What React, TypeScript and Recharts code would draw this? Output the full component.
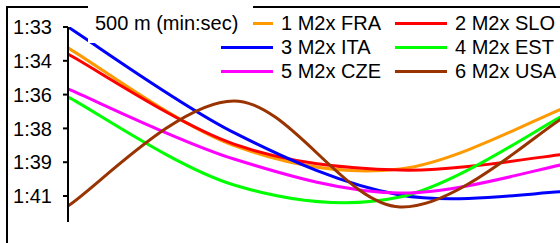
import React from "react";
import { Line, LineChart, XAxis, YAxis } from "recharts";

// 500 m splits (seconds)
const legs = ["500", "1000", "1500", "2000"];
const crews = ["1 M2x FRA", "2 M2x SLO", "3 M2x ITA", "4 M2x EST", "5 M2x CZE", "6 M2x USA"];
const colors = ["#FF9900", "#FF0000", "#0000FF", "#00FF00", "#FF00FF", "#993300"];

const fra = [93.79, 98.41, 99.52, 96.59];
const slo = [94.08, 98.34, 99.57, 98.81];
const ita = [92.8, 97.8, 100.75, 100.59];
const est = [96.11, 100.28, 100.85, 96.92];
const cze = [95.73, 99.05, 100.66, 99.28];
const usa = [101.27, 96.3, 101.32, 97.01];

const yTicks = [92.8, 94.4, 96, 97.6, 99.2, 100.8];

const series = [fra, slo, ita, est, cze, usa];
const data = legs.map((leg, i) => {
  const row: Record<string, number | string> = { idx: i, leg };
  crews.forEach((c, k) => (row[c] = series[k][i]));
  return row;
});

const fmt = (v: number) => {
  const s = Math.round(v);
  return `${Math.floor(s / 60)}:${String(s % 60).padStart(2, "0")}`;
};

// Excel-like smoothed line (Catmull-Rom through the points)
function smooth(context: any) {
  let pts: number[][] = [];
  return {
    areaStart() {},
    areaEnd() {},
    lineStart() {
      pts = [];
    },
    point(x: number, y: number) {
      pts.push([+x, +y]);
    },
    lineEnd() {
      if (!pts.length) return;
      context.moveTo(pts[0][0], pts[0][1]);
      for (let i = 0; i < pts.length - 1; i++) {
        const p0 = pts[i - 1] || pts[i];
        const p1 = pts[i];
        const p2 = pts[i + 1];
        const p3 = pts[i + 2] || p2;
        context.bezierCurveTo(
          p1[0] + (p2[0] - p0[0]) / 6,
          p1[1] + (p2[1] - p0[1]) / 6,
          p2[0] - (p3[0] - p1[0]) / 6,
          p2[1] - (p3[1] - p1[1]) / 6,
          p2[0],
          p2[1]
        );
      }
    },
  };
}

const font = '"Liberation Sans", Arial, sans-serif';
const rowTops = [13, 37, 61];
const colX = [221, 395];

export default function App() {
  return (
    <div
      style={{
        position: "absolute",
        left: 0,
        top: 0,
        width: 560,
        height: 243,
        overflow: "hidden",
        background: "#fff",
        fontFamily: font,
      }}
    >
      <div
        style={{
          position: "absolute",
          left: 6,
          top: 6,
          width: 600,
          height: 300,
          borderLeft: "2px solid #000",
          borderTop: "2px solid #000",
        }}
      />
      <div style={{ position: "absolute", left: 0, top: 0 }}>
        <LineChart
          width={570}
          height={243}
          data={data}
          margin={{ top: 27, right: 4, bottom: 21, left: 0 }}
          style={{ fontFamily: font }}
        >
          <XAxis dataKey="idx" type="number" domain={[0, 3]} hide />
          <YAxis
            type="number"
            reversed
            width={68}
            domain={[92.8, 102.03]}
            ticks={yTicks}
            interval={0}
            allowDataOverflow
            tickFormatter={fmt}
            tick={{ fill: "#000", fontSize: 20 }}
            tickSize={5}
            tickMargin={11}
            axisLine={{ stroke: "#000", strokeWidth: 2 }}
            tickLine={{ stroke: "#000", strokeWidth: 2 }}
          />
          {crews.map((c, k) => (
            <Line
              key={c}
              dataKey={c}
              type={smooth as any}
              stroke={colors[k]}
              strokeWidth={3}
              dot={false}
              activeDot={false}
              isAnimationActive={false}
            />
          ))}
        </LineChart>
      </div>
      {crews.map((c, k) => {
        const top = rowTops[Math.floor(k / 2)];
        const x = colX[k % 2];
        return (
          <React.Fragment key={c}>
            <div
              style={{
                position: "absolute",
                left: x,
                top: top + 8.5,
                width: 52,
                height: 3,
                background: colors[k],
              }}
            />
            <div
              style={{
                position: "absolute",
                left: x + 60,
                top,
                fontSize: 20,
                lineHeight: "20px",
                whiteSpace: "nowrap",
                color: "#000",
              }}
            >
              {c}
            </div>
          </React.Fragment>
        );
      })}
      <div
        style={{
          position: "absolute",
          left: 88,
          top: 0,
          width: 165,
          height: 43,
          background: "#fff",
        }}
      >
        <div
          style={{
            position: "absolute",
            left: 7,
            top: 13,
            fontSize: 20,
            lineHeight: "20px",
            whiteSpace: "nowrap",
            color: "#000",
          }}
        >
          500 m (min:sec)
        </div>
      </div>
    </div>
  );
}
